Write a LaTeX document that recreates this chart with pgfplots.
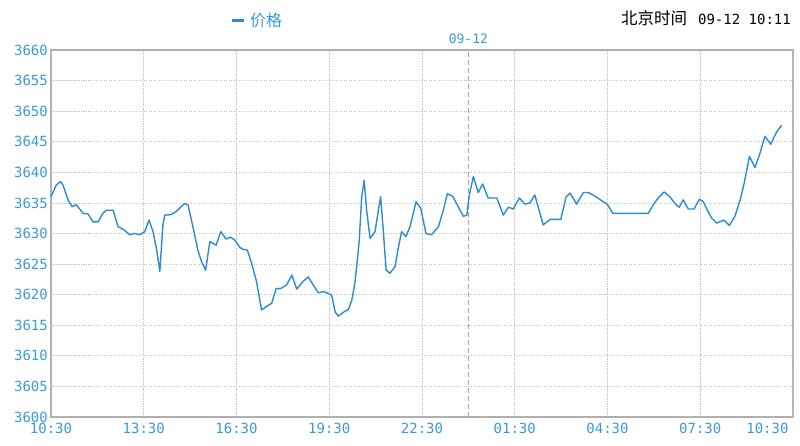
\documentclass[border=0pt]{standalone}
\usepackage{pgfplots}
\pgfplotsset{compat=1.18}
\usepackage{fontspec}
\setmainfont{DejaVu Sans}
\setmonofont{DejaVu Sans Mono}
\newfontfamily\cjk{Noto Sans CJK SC}
\definecolor{lineblue}{HTML}{2B8BD3}
\definecolor{ticklbl}{HTML}{3A9AD9}
\definecolor{gridgray}{HTML}{C4C4C4}
\definecolor{framegray}{HTML}{B0B0B0}
\begin{document}
\begin{tikzpicture}[x=1pt,y=1pt]
\useasboundingbox (0,0) rectangle (800,445);
\begin{axis}[
  at={(51pt,28pt)}, anchor=south west, scale only axis,
  width=742pt, height=367pt,
  xmin=0, xmax=24, ymin=3600, ymax=3660,
  xtick={0,3,6,9,12,15,18,21},
  xticklabels={10:30,13:30,16:30,19:30,22:30,01:30,04:30,07:30},
  extra x ticks={24},
  extra x tick labels={10:30},
  extra x tick style={xticklabel style={anchor=north east, xshift=-1pt}},
  ytick={3600,3605,3610,3615,3620,3625,3630,3635,3640,3645,3650,3655,3660},
  grid=major,
  major grid style={draw=gridgray, dash pattern=on 1.2pt off 1.3pt, line width=0.8pt},
  axis line style={draw=framegray, line width=1.3pt},
  tick style={draw=none},
  ticklabel style={font=\ttfamily\fontsize{14}{16}\selectfont, text=ticklbl},
  /pgf/number format/assume math mode=true,
  /pgf/number format/1000 sep={},
  yticklabel style={inner sep=2pt, xshift=-1pt},
  xticklabel style={yshift=-3pt},
  clip=false,
]
\addplot[draw=gray!75, line width=1pt, dash pattern=on 5pt off 3pt, forget plot]
  coordinates {(13.5,3600) (13.5,3660)};
\addplot[color=lineblue, line width=1.4pt, line join=round, mark=none] coordinates {
(0.00,3636.0) (0.17,3637.9) (0.31,3638.5) (0.39,3637.9) (0.55,3635.5) (0.68,3634.4)
(0.82,3634.7) (1.04,3633.3) (1.20,3633.2) (1.36,3631.9) (1.52,3631.9) (1.68,3633.3)
(1.79,3633.8) (2.01,3633.8) (2.17,3631.1) (2.33,3630.7) (2.55,3629.8) (2.71,3630.0)
(2.87,3629.8) (3.03,3630.3) (3.17,3632.2) (3.30,3630.3) (3.41,3627.6) (3.52,3623.8)
(3.62,3631.4) (3.68,3633.0) (3.89,3633.1) (4.05,3633.6) (4.32,3634.9) (4.43,3634.7)
(4.59,3631.1) (4.75,3627.3) (4.87,3625.4) (5.00,3624.0) (5.14,3628.7) (5.23,3628.4)
(5.34,3628.1) (5.49,3630.3) (5.66,3629.1) (5.81,3629.4) (5.95,3628.9) (6.11,3627.7)
(6.22,3627.4) (6.35,3627.3) (6.49,3625.1) (6.65,3622.1) (6.81,3617.5) (6.95,3618.0)
(7.14,3618.6) (7.28,3621.0) (7.43,3621.0) (7.62,3621.6) (7.79,3623.2) (7.95,3620.9)
(8.14,3622.1) (8.32,3622.9) (8.48,3621.6) (8.65,3620.3) (8.81,3620.5) (8.97,3620.2)
(9.08,3619.9) (9.19,3617.2) (9.29,3616.5) (9.45,3617.1) (9.62,3617.6) (9.73,3619.1)
(9.83,3621.9) (9.91,3625.7) (9.97,3628.9) (10.05,3636.0) (10.13,3638.7) (10.21,3633.8)
(10.32,3629.2) (10.48,3630.3) (10.59,3633.8) (10.66,3636.0) (10.73,3631.7) (10.84,3624.0)
(10.96,3623.5) (11.13,3624.6) (11.23,3627.6) (11.34,3630.3) (11.48,3629.5) (11.61,3631.1)
(11.81,3635.2) (11.96,3634.1) (12.13,3630.0) (12.31,3629.8) (12.53,3631.1) (12.69,3633.8)
(12.82,3636.5) (12.99,3636.1) (13.17,3634.4) (13.34,3632.8) (13.45,3633.0) (13.53,3636.3)
(13.66,3639.3) (13.82,3636.7) (13.96,3638.1) (14.14,3635.8) (14.42,3635.8) (14.63,3633.0)
(14.79,3634.3) (14.95,3634.0) (15.15,3635.8) (15.33,3634.8) (15.49,3635.0) (15.65,3636.3)
(15.92,3631.4) (16.14,3632.3) (16.49,3632.3) (16.66,3636.0) (16.79,3636.6) (17.00,3634.8)
(17.22,3636.7) (17.38,3636.7) (17.60,3636.1) (17.86,3635.2) (17.99,3634.8) (18.17,3633.3)
(19.32,3633.3) (19.48,3634.7) (19.64,3635.8) (19.83,3636.8) (20.02,3636.0) (20.18,3634.9)
(20.32,3634.3) (20.45,3635.5) (20.61,3634.0) (20.80,3634.0) (20.97,3635.6) (21.10,3635.2)
(21.23,3633.8) (21.37,3632.5) (21.53,3631.7) (21.77,3632.2) (21.94,3631.3) (22.12,3632.8)
(22.29,3635.5) (22.42,3638.2) (22.59,3642.6) (22.77,3640.8) (22.93,3643.1) (23.09,3645.9)
(23.28,3644.6) (23.47,3646.6) (23.63,3647.7)
};
\node[anchor=south, text=ticklbl, font=\ttfamily\fontsize{13}{15}\selectfont, inner sep=0pt]
  at (axis cs:13.5,3660) [yshift=6pt] {09-12};
\end{axis}
\node[anchor=center, inner sep=0pt] at (257,425)
  {{\color{lineblue}\rule[4pt]{12pt}{3.5pt}}\hspace{6pt}{\cjk\fontsize{16}{18}\selectfont\color{ticklbl}价格}};
\node[anchor=east, inner sep=0pt] at (791,427)
  {{\cjk\fontsize{16.5}{19}\selectfont 北京时间}\hspace{11pt}{\ttfamily\fontsize{14}{16}\selectfont 09-12 10:11}};
\end{tikzpicture}
\end{document}
